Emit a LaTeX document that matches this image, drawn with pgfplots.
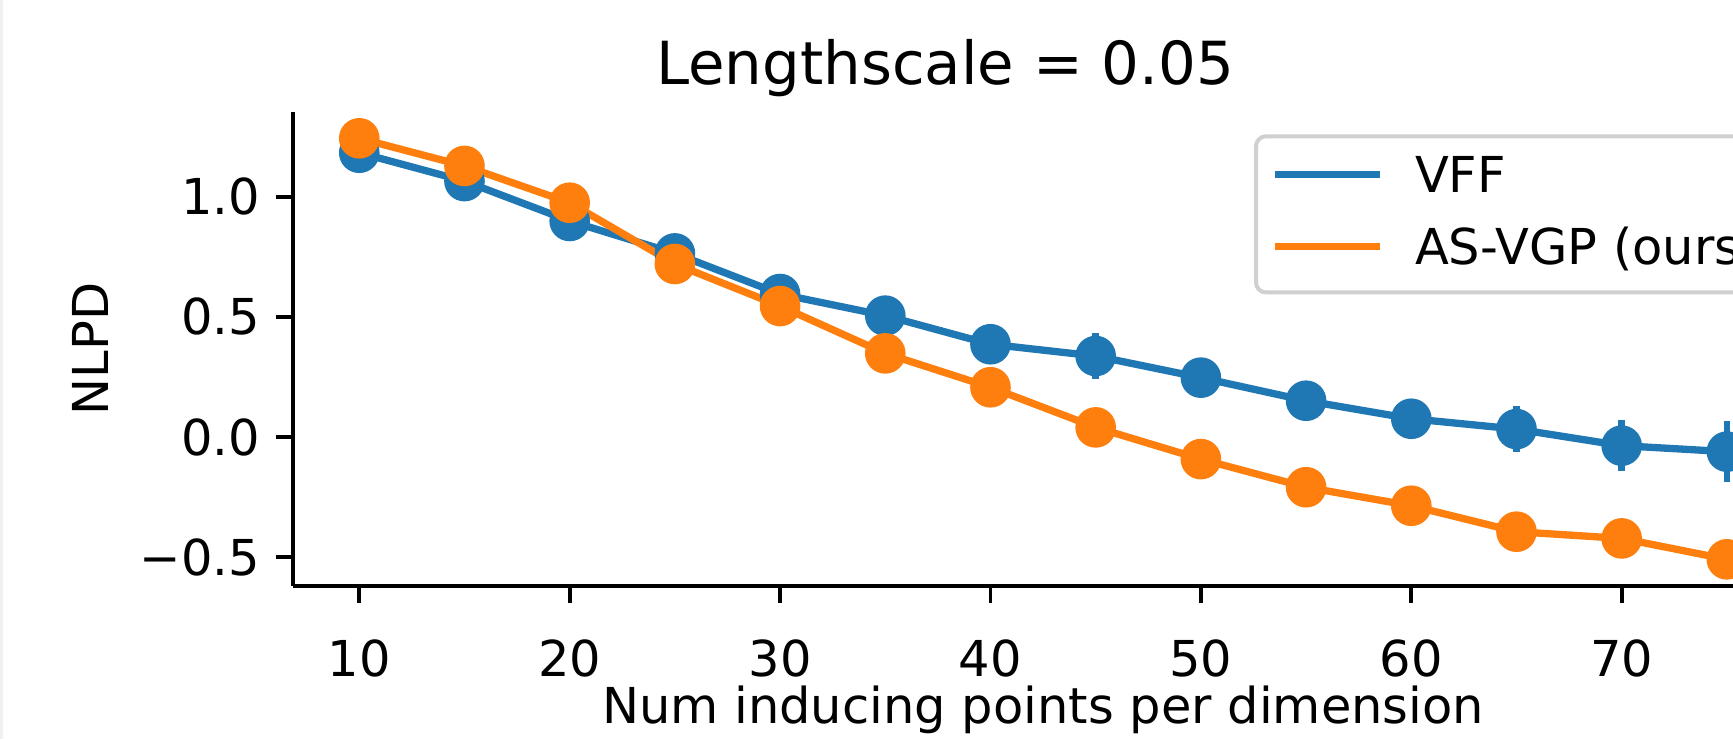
\documentclass[border=0pt]{standalone}
\usepackage{fontspec}
\setmainfont{DejaVu Sans}
\usepackage{pgfplots}
\pgfplotsset{compat=1.18}
\definecolor{tabblue}{HTML}{1F77B4}
\definecolor{taborange}{HTML}{FF7F0E}
\definecolor{legframe}{HTML}{D0D0D0}

\begin{document}
\begin{tikzpicture}
\fill[gray!12] (0,0) rectangle (0.6pt,147.8pt);
\begin{axis}[
  at={(58.6pt,30.6pt)}, anchor=south west,
  x=4.208pt, y=48.06pt,
  xmin=6.85, xmax=80, ymin=-0.620, ymax=1.3525,
  axis lines=left,
  axis line style={-, line width=0.78pt, black},
  tick align=outside,
  major tick length=3.43pt,
  tick style={line width=0.78pt, black},
  xtick={10,20,30,40,50,60,70},
  xticklabels={10,20,30,40,50,60,70},
  ytick={-0.5,0,0.5,1},
  yticklabels={−0.5,0.0,0.5,1.0},
  ticklabel style={font=\fontsize{9.9}{12}\selectfont, inner sep=0pt},
  xticklabel style={anchor=north, yshift=-7.2pt},
  yticklabel style={anchor=east, xshift=-3.0pt},
  title={Lengthscale = 0.05},
  every axis title/.style={at={(axis description cs:0.4237,1)}, anchor=base,
    yshift=5.6pt, inner sep=0pt, font=\fontsize{11.88}{14}\selectfont},
  xlabel={Num inducing points per dimension},
  xlabel style={at={(axis description cs:0.4873,0)}, anchor=base, yshift=-27.6pt,
    inner sep=0pt, font=\fontsize{9.9}{12}\selectfont},
  ylabel={NLPD},
  ylabel style={at={(axis description cs:-0.1196,0.5)}, anchor=base,
    inner sep=0pt, font=\fontsize{9.9}{12}\selectfont},
  legend cell align=left,
  legend image code/.code={\draw[#1, line width=1.46pt] (0pt,0.78pt) -- (21.1pt,0.78pt);},
  legend style={at={(axis description cs:0.6244,0.953)}, anchor=north west,
    draw=legframe, line width=0.8pt, rounded corners=2pt, fill=white,
    inner xsep=3.06pt, inner ysep=4.04pt, row sep=5.64pt, column sep=6.2pt,
    font=\fontsize{9.9}{12}\selectfont,
    nodes={inner sep=0pt, text height=7.2pt, text depth=1.56pt}},
  error bars/y dir=both, error bars/y explicit,
  error bars/error mark=none,
]
\addplot[color=tabblue, line width=1.46pt, mark=*, mark size=3.33pt,
  mark options={draw=none, fill=tabblue},
  error bars/error bar style={line width=1.35pt, tabblue}]
  coordinates {
  (10,1.183) +- (0,0)
  (15,1.065) +- (0,0)
  (20,0.899) +- (0,0)
  (25,0.764) +- (0,0)
  (30,0.595) +- (0,0)
  (35,0.505) +- (0,0)
  (40,0.386) +- (0,0)
  (45,0.337) +- (0,0.094)
  (50,0.247) +- (0,0)
  (55,0.151) +- (0,0)
  (60,0.076) +- (0,0)
  (65,0.033) +- (0,0.094)
  (70,-0.036) +- (0,0.106)
  (75,-0.061) +- (0,0.128)
};
\addlegendentry{VFF}
\addplot[color=taborange, line width=1.46pt, mark=*, mark size=3.33pt,
  mark options={draw=none, fill=taborange},
  error bars/error bar style={line width=1.35pt, taborange}]
  coordinates {
  (10,1.243) +- (0,0)
  (15,1.128) +- (0,0)
  (20,0.975) +- (0,0)
  (25,0.720) +- (0,0)
  (30,0.545) +- (0,0)
  (35,0.348) +- (0,0)
  (40,0.207) +- (0,0)
  (45,0.040) +- (0,0)
  (50,-0.092) +- (0,0)
  (55,-0.209) +- (0,0)
  (60,-0.286) +- (0,0)
  (65,-0.394) +- (0,0)
  (70,-0.422) +- (0,0)
  (75,-0.509) +- (0,0)
};
\addlegendentry{AS-VGP (ours)}
\end{axis}
\pgfresetboundingbox
\path[use as bounding box] (0,0) rectangle (346.6pt,147.8pt);
\end{tikzpicture}
\end{document}
